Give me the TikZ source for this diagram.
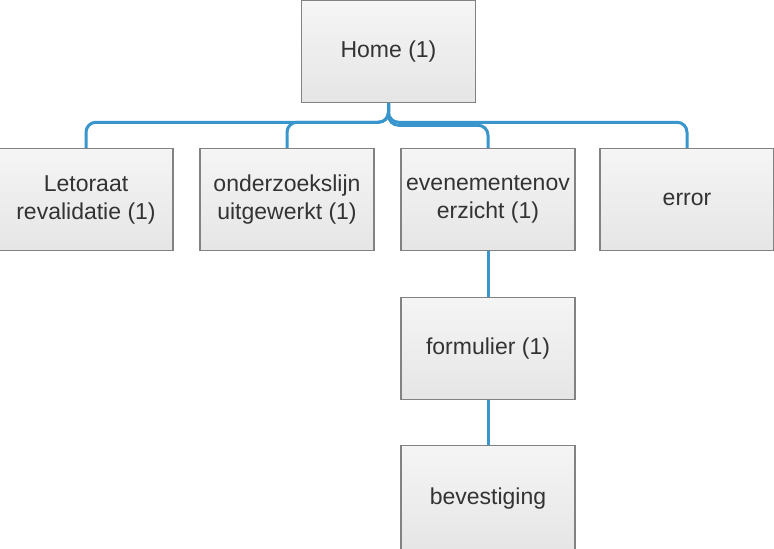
\documentclass[tikz,border=0pt]{standalone}
\usepackage{fontspec}
\setmainfont{Liberation Sans}
\usepackage{xcolor}
\usetikzlibrary{positioning}
\definecolor{linkblue}{RGB}{56,150,204}
\definecolor{boxline}{RGB}{130,130,130}
\definecolor{boxtext}{RGB}{51,51,51}

\begin{document}
\begin{tikzpicture}[x=0.5pt, y=-0.5pt, font=\fontsize{11.5}{14}\selectfont,
    page/.style={draw=boxline, line width=0.75pt, top color=black!4, bottom color=black!10,
      text=boxtext, minimum width=87pt, minimum height=51pt, align=center, inner sep=2pt},
    link/.style={draw=linkblue, line width=1.5pt, rounded corners=5pt}]
  \useasboundingbox (0,0) rectangle (774,548);

  % Pages
  \node[page] (home) at (388.5, 51.5) {Home (1)};
  \node[page] (letoraat) at (86, 199.5) {Letoraat\\revalidatie (1)};
  \node[page] (onderzoek) at (287, 199.5) {onderzoekslijn\\uitgewerkt (1)};
  \node[page] (evenementen) at (488, 199.5) {evenementenov\\erzicht (1)};
  \node[page] (error) at (687, 199.5) {error};
  \node[page] (formulier) at (488, 348.5) {formulier (1)};
  \node[page, minimum height=53pt] (bevestiging) at (488, 498.5) {bevestiging};

  % Links
  \draw[link] (home.south) -- ++(0,19) -| (letoraat.north);
  \draw[link] (home.south) -- ++(0,19) -| (onderzoek.north);
  \draw[link] (home.south) -- ++(0,22) -| (evenementen.north);
  \draw[link] (home.south) -- ++(0,19) -| (error.north);
  \draw[link] (evenementen.south) -- (formulier.north);
  \draw[link] (formulier.south) -- (bevestiging.north);
\end{tikzpicture}
\end{document}
